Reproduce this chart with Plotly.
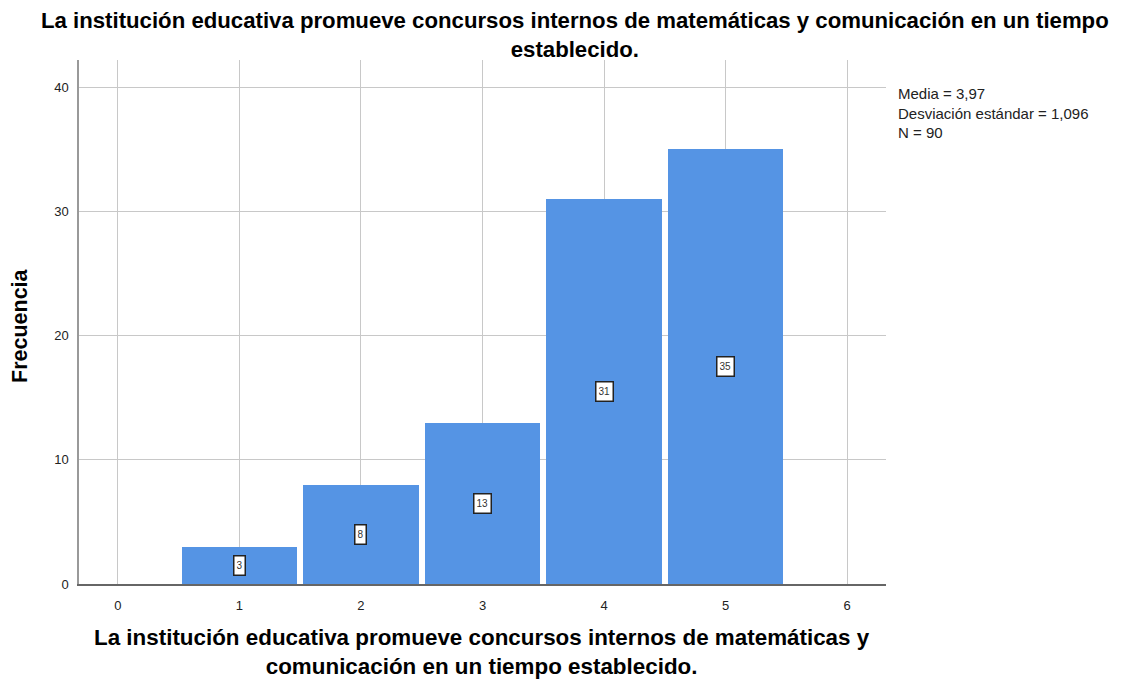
import plotly.graph_objects as go

categories = [1, 2, 3, 4, 5]
counts = [3, 8, 13, 31, 35]
x_ticks = [0, 1, 2, 3, 4, 5, 6]
y_ticks = [0, 10, 20, 30, 40]
stats_lines = ["Media = 3,97", "Desviación estándar = 1,096", "N = 90"]
title_lines = ["La institución educativa promueve concursos internos de matemáticas y comunicación en un tiempo",
               "establecido."]
xaxis_title_lines = ["La institución educativa promueve concursos internos de matemáticas y",
                     "comunicación en un tiempo establecido."]
yaxis_title = "Frecuencia"

FONT = "Liberation Sans, Arial, sans-serif"
PLOT_H = 524.0
PLOT_W = 807.0

fig = go.Figure()
fig.add_trace(go.Bar(
    x=categories, y=counts, width=0.95,
    marker=dict(color="#5594e4", line=dict(width=0)),
    hoverinfo="x+y", showlegend=False,
))

for c, v in zip(categories, counts):
    fig.add_annotation(
        x=c, y=v / 2, text=str(v), showarrow=False, height=13.5,
        font=dict(family=FONT, size=10, color="#333"),
        bgcolor="white", bordercolor="#222", borderwidth=1.5, borderpad=2,
    )

# statistics box
fig.add_annotation(
    xref="paper", yref="paper", x=(896 - 79) / PLOT_W, y=1 + (60 - 113) / PLOT_H,
    xanchor="left", yanchor="middle", text="<br>".join(stats_lines), showarrow=False, align="left",
    font=dict(family=FONT, size=15, color="#222"),
)

# title
fig.add_annotation(
    xref="paper", yref="paper", x=(575 - 79) / PLOT_W, y=1 + (60 - 35) / PLOT_H,
    xanchor="center", yanchor="middle", text="<br>".join("<b>" + l + "</b>" for l in title_lines),
    showarrow=False, align="center",
    font=dict(family=FONT, size=22.2, color="black"),
)

# x axis title
fig.add_annotation(
    xref="paper", yref="paper", x=(482 - 79) / PLOT_W, y=-(652 - 584) / PLOT_H,
    xanchor="center", yanchor="middle", text="<br>".join("<b>" + l + "</b>" for l in xaxis_title_lines),
    showarrow=False, align="center",
    font=dict(family=FONT, size=22.4, color="black"),
)

# y axis title
fig.add_annotation(
    xref="paper", yref="paper", x=(20 - 79) / PLOT_W, y=(584 - 326) / PLOT_H,
    xanchor="center", yanchor="middle", text="<b>" + yaxis_title + "</b>", showarrow=False,
    textangle=-90, font=dict(family=FONT, size=21.5, color="black"),
)

fig.update_layout(
    width=1139, height=679,
    paper_bgcolor="white", plot_bgcolor="white",
    margin=dict(l=71, r=261, t=52, b=103, autoexpand=False),
    font=dict(family=FONT, color="#222"),
    bargap=0,
)
fig.update_xaxes(
    range=[-0.32, 6.32], tickvals=x_ticks, ticktext=[str(t) for t in x_ticks],
    showgrid=True, gridcolor="#c8c8c8", gridwidth=1,
    showline=True, linecolor="#666", linewidth=2,
    ticks="outside", ticklen=8, tickcolor="rgba(0,0,0,0)",
    tickfont=dict(size=13, color="#222"),
    zeroline=False,
)
fig.update_yaxes(
    range=[0, 42.2], tickvals=y_ticks,
    showgrid=True, gridcolor="#c8c8c8", gridwidth=1,
    showline=True, linecolor="#999", linewidth=1.5,
    ticks="outside", ticklen=6, tickcolor="rgba(0,0,0,0)",
    tickfont=dict(size=13, color="#222"),
    zeroline=False,
)

fig.write_html("out.html")
